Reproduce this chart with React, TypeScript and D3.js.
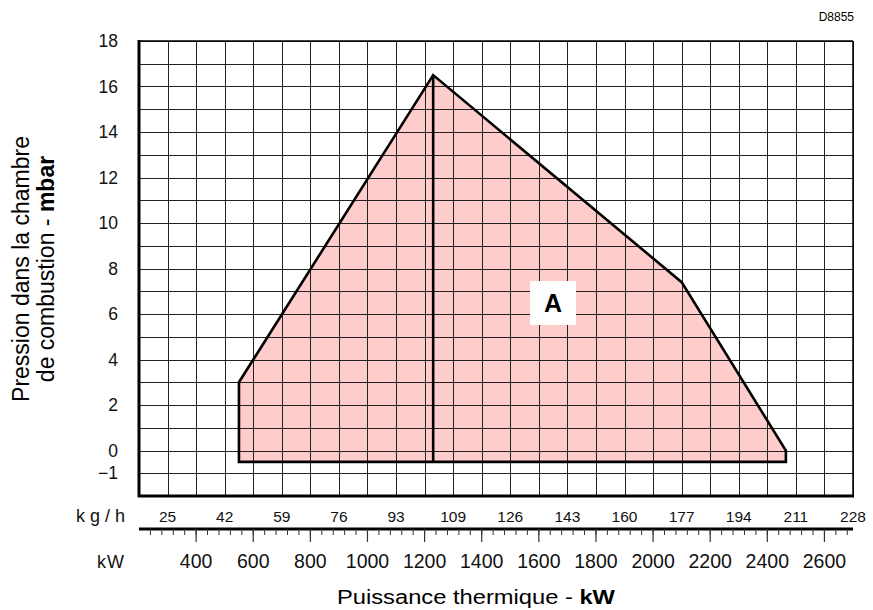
import React from "react";
import * as d3 from "d3";

// working range of the burner (kW, mbar)
const envelopeKW = [550, 550, 1230, 2100, 2465, 2465];
const envelopeMbar = [-0.5, 3, 16.5, 7.4, 0, -0.5];
const dividerKW = 1230;

const yTicks = [18, 16, 14, 12, 10, 8, 6, 4, 2, 0, -1];
const kWTicks = [400, 600, 800, 1000, 1200, 1400, 1600, 1800, 2000, 2200, 2400, 2600];
const kgLabels = ["25", "42", "59", "76", "93", "109", "126", "143", "160", "177", "194", "211", "228"];
const kgLabelKW = [300, 500, 700, 900, 1100, 1300, 1500, 1700, 1900, 2100, 2300, 2500, 2700];

const W = 873, H = 610;
const left = 139, right = 853, top = 41, bottom = 496;

export default function App() {
  const x = d3.scaleLinear().domain([200, 2700]).range([left, right]);
  const y = d3.scaleLinear().domain([-2, 18]).range([bottom, top]);

  const vGrid = d3.range(200, 2701, 100);
  const hGrid = d3.range(-2, 18.5, 1);
  const minor = d3.range(240, 2700, 40);

  const line = d3.line<number>().x((d, i) => x(envelopeKW[i])).y(d => y(d));
  const area = line(envelopeMbar) + "Z";

  const axisY = 529;
  const font = "Liberation Sans, Arial, sans-serif";

  return (
    <svg width={W} height={H} style={{ position: "absolute", left: 0, top: 0, background: "#fff" }}>
      <text x={854} y={21} textAnchor="end" fontFamily={font} fontSize={12} fill="#000">D8855</text>

      <path d={area} fill="#ffcccc" stroke="none" />

      {/* grid */}
      {vGrid.map(v => (
        <line key={"v" + v} x1={Math.round(x(v)) + 0.5} x2={Math.round(x(v)) + 0.5} y1={top} y2={bottom} stroke="#222" strokeWidth={1} />
      ))}
      {hGrid.map(v => (
        <line key={"h" + v} x1={left} x2={right} y1={Math.round(y(v)) + 0.5} y2={Math.round(y(v)) + 0.5} stroke="#222" strokeWidth={1} />
      ))}
      <line x1={left} x2={right} y1={top} y2={top} stroke="#000" strokeWidth={1.5} />
      <line x1={right} x2={right} y1={top} y2={bottom} stroke="#000" strokeWidth={1.5} />
      <line x1={left} x2={left} y1={top - 1} y2={bottom + 1} stroke="#000" strokeWidth={3} />
      <line x1={left - 1} x2={right + 1} y1={bottom} y2={bottom} stroke="#000" strokeWidth={3} />

      {/* envelope outline */}
      <path d={area} fill="none" stroke="#000" strokeWidth={2.6} strokeLinejoin="miter" />
      <line x1={x(dividerKW)} x2={x(dividerKW)} y1={y(16.5)} y2={y(-0.5)} stroke="#000" strokeWidth={2.6} />

      <rect x={530} y={281} width={46} height={44} fill="#fff" />
      <text x={553} y={312} textAnchor="middle" fontFamily={font} fontWeight="bold" fontSize={25} fill="#000">A</text>

      {/* y ticks */}
      {yTicks.map(t => (
        <text key={"yt" + t} x={118} y={y(t) + 6} textAnchor="end" fontFamily={font} fontSize={17.5} fill="#111">
          {t < 0 ? "\u2212" + Math.abs(t) : t}
        </text>
      ))}

      {/* kg/h row */}
      <text x={76} y={522} fontFamily={font} fontSize={18} letterSpacing={5} fill="#111">kg/h</text>
      {kgLabels.map((l, i) => (
        <text key={"kg" + l} x={x(kgLabelKW[i])} y={522} textAnchor="middle" fontFamily={font} fontSize={15.5} fill="#111">{l}</text>
      ))}

      {/* kW axis */}
      <line x1={left} x2={right} y1={axisY} y2={axisY} stroke="#000" strokeWidth={3} />
      {minor.map(v => (
        <line key={"m" + v} x1={x(v)} x2={x(v)} y1={axisY} y2={axisY + 6} stroke="#333" strokeWidth={1} />
      ))}
      {kWTicks.map(v => (
        <line key={"M" + v} x1={x(v)} x2={x(v)} y1={axisY} y2={axisY + 13} stroke="#333" strokeWidth={1.2} />
      ))}
      <text x={97} y={568} fontFamily={font} fontSize={18} letterSpacing={1} fill="#111">kW</text>
      {kWTicks.map(v => (
        <text key={"kt" + v} x={x(v)} y={568} textAnchor="middle" fontFamily={font} fontSize={19.5} fill="#111">{v}</text>
      ))}

      {/* titles */}
      <text x={476} y={604} textAnchor="middle" fontFamily={font} fontSize={20} textLength={278} lengthAdjust="spacingAndGlyphs" fill="#000">
        Puissance thermique - <tspan fontWeight="bold">kW</tspan>
      </text>
      <g transform="translate(29,269) rotate(-90)">
        <text x={0} y={0} textAnchor="middle" fontFamily={font} fontSize={23} fill="#000">Pression dans la chambre</text>
        <text x={0} y={25} textAnchor="middle" fontFamily={font} fontSize={23} fill="#000">
          de combustion - <tspan fontWeight="bold">mbar</tspan>
        </text>
      </g>
    </svg>
  );
}
